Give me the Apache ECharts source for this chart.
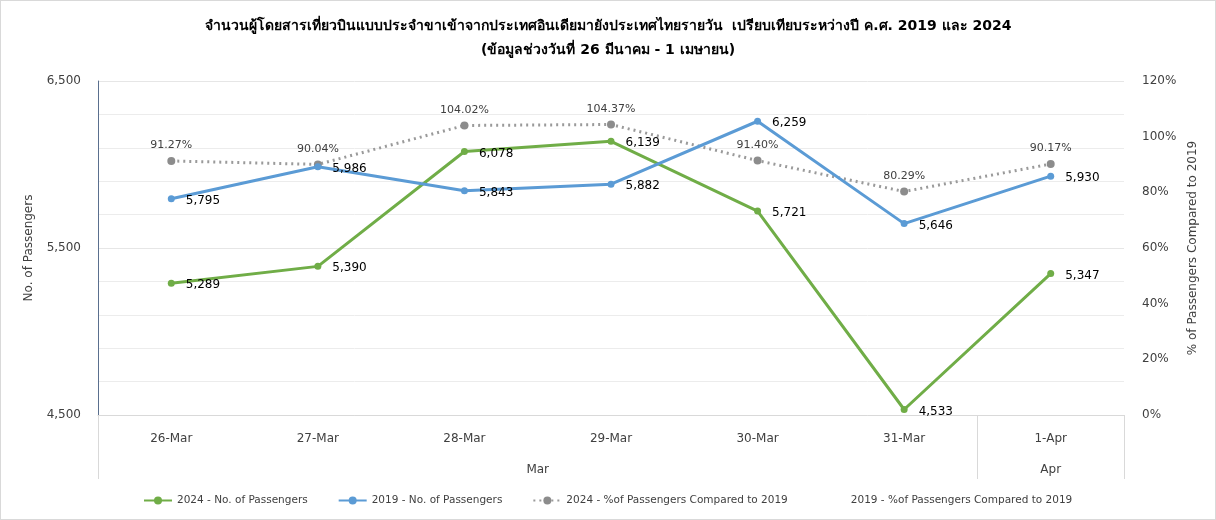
<!DOCTYPE html>
<html>
<head>
    <meta charset="UTF-8">
    <title>ผู้โดยสารอินเดีย-ไทย</title>
    <script src="https://cdn.jsdelivr.net/npm/echarts@6/dist/echarts.min.js"></script>
    <style>
        html, body {
            margin: 0;
            padding: 0;
            background: #fff;
        }

        #chart {
            width: 1216px;
            height: 520px;
            box-sizing: border-box;
            border: 1px solid #d9d9d9;
        }
    </style>
</head>
<body>
<div id="chart"></div>
<script>
    // ข้อมูล
    var days = ['26-Mar', '27-Mar', '28-Mar', '29-Mar', '30-Mar', '31-Mar', '1-Apr'];
    var months = ['Mar', 'Apr'];
    var monthCenters = [3, 6.5];   // ตำแหน่งกลางของกลุ่มเดือน (หน่วย = จำนวนวัน)
    var pax2024 = [5289, 5390, 6078, 6139, 5721, 4533, 5347];
    var pax2019 = [5795, 5986, 5843, 5882, 6259, 5646, 5930];
    var pct2024 = [0.9127, 0.9004, 1.0402, 1.0437, 0.9140, 0.8029, 0.9017];
    var pct2019 = [1, 1, 1, 1, 1, 1, 1];

    var FONT = 'Tahoma, "DejaVu Sans", "Noto Sans", sans-serif';
    var fmtNum = function (v) {
        return Number(v).toLocaleString('en-US');
    };

    var chart = echarts.init(document.getElementById('chart'));
    chart.setOption({
        animation: false
        , textStyle: {fontFamily: FONT}
        , title: {
            text: 'จำนวนผู้โดยสารเที่ยวบินแบบประจำขาเข้าจากประเทศอินเดียมายังประเทศไทยรายวัน  เปรียบเทียบระหว่างปี ค.ศ. 2019 และ 2024\n(ข้อมูลช่วงวันที่ 26 มีนาคม - 1 เมษายน)'
            , left: 'center'
            , top: 8
            , textStyle: {fontSize: 14, fontWeight: 'bold', color: '#000', lineHeight: 24, fontFamily: FONT}
        }
        , legend: {
            left: 137
            , top: 489
            , itemWidth: 28
            , itemHeight: 10
            , itemGap: 30
            , textStyle: {fontSize: 10.5, color: '#404040'}
            , data: ['2024 - No. of Passengers', '2019 - No. of Passengers',
                '2024 - %of Passengers Compared to 2019', '2019 - %of Passengers Compared to 2019']
        }
        , grid: {left: 97, right: 91, top: 80, bottom: 104}
        , xAxis: [{
            type: 'category'
            , data: days
            , boundaryGap: true
            , axisLine: {lineStyle: {color: '#d9d9d9'}}
            , axisTick: {
                show: true
                , length: 64
                , interval: function (i) {
                    return i === 0 || i === 6;
                }
                , lineStyle: {color: '#d9d9d9'}
            }
            , axisLabel: {color: '#404040', fontSize: 12, margin: 18}
        }, {
            type: 'value'
            , position: 'bottom'
            , min: 0
            , max: 7
            , axisLine: {show: false}
            , axisTick: {show: false}
            , splitLine: {show: false}
            , axisLabel: {
                color: '#404040'
                , fontSize: 12
                , margin: 49
                , customValues: monthCenters
                , formatter: function (v) {
                    return v === monthCenters[0] ? months[0] : months[1];
                }
            }
        }]
        , yAxis: [{
            type: 'value'
            , min: 4500
            , max: 6500
            , interval: 1000
            , name: 'No. of Passengers'
            , nameLocation: 'middle'
            , nameGap: 63
            , nameTextStyle: {fontSize: 12, color: '#404040'}
            , axisLine: {show: true, lineStyle: {color: '#5a6f8e'}}
            , axisTick: {show: false}
            , axisLabel: {color: '#404040', fontSize: 12, margin: 17, formatter: fmtNum}
            , splitLine: {lineStyle: {color: '#e6e6e6'}}
            , minorTick: {show: false, splitNumber: 5}
            , minorSplitLine: {show: true, lineStyle: {color: '#ececec'}}
        }, {
            type: 'value'
            , min: 0
            , max: 1.2
            , interval: 0.2
            , name: '% of Passengers Compared to 2019'
            , nameLocation: 'middle'
            , nameGap: 60
            , nameTextStyle: {fontSize: 12, color: '#404040'}
            , axisLine: {show: false}
            , axisTick: {show: false}
            , splitLine: {show: false}
            , axisLabel: {
                color: '#404040', fontSize: 12, margin: 18
                , formatter: function (v) {
                    return Math.round(v * 100) + '%';
                }
            }
        }]
        , series: [
            {
                name: '2024 - No. of Passengers'
                , type: 'line'
                , data: pax2024
                , symbol: 'circle'
                , symbolSize: 7
                , itemStyle: {color: '#70ad47'}
                , lineStyle: {width: 3, color: '#70ad47'}
                , label: {
                    show: true, position: 'right', offset: [6, 2]
                    , color: '#000', fontSize: 12, formatter: function (p) {
                        return fmtNum(p.value);
                    }
                }
                , z: 3
            }
            , {
                name: '2019 - No. of Passengers'
                , type: 'line'
                , data: pax2019
                , symbol: 'circle'
                , symbolSize: 7
                , itemStyle: {color: '#5b9bd5'}
                , lineStyle: {width: 3, color: '#5b9bd5'}
                , label: {
                    show: true, position: 'right', offset: [6, 2]
                    , color: '#000', fontSize: 12, formatter: function (p) {
                        return fmtNum(p.value);
                    }
                }
                , z: 3
            }
            , {
                name: '2024 - %of Passengers Compared to 2019'
                , type: 'line'
                , yAxisIndex: 1
                , data: pct2024
                , symbol: 'circle'
                , symbolSize: 8
                , itemStyle: {color: '#8c8c8c'}
                , lineStyle: {width: 3, color: '#9a9a9a', type: [2, 4]}
                , label: {
                    show: true, position: 'top', distance: 6
                    , color: '#404040', fontSize: 11, formatter: function (p) {
                        return (p.value * 100).toFixed(2) + '%';
                    }
                }
                , z: 2
            }
            , {
                name: '2019 - %of Passengers Compared to 2019'
                , type: 'line'
                , yAxisIndex: 1
                , data: pct2019
                , symbol: 'none'
                , itemStyle: {color: 'rgba(0,0,0,0)'}
                , lineStyle: {width: 0, color: 'rgba(0,0,0,0)'}
                , silent: true
            }
        ]
    });
</script>
</body>
</html>
